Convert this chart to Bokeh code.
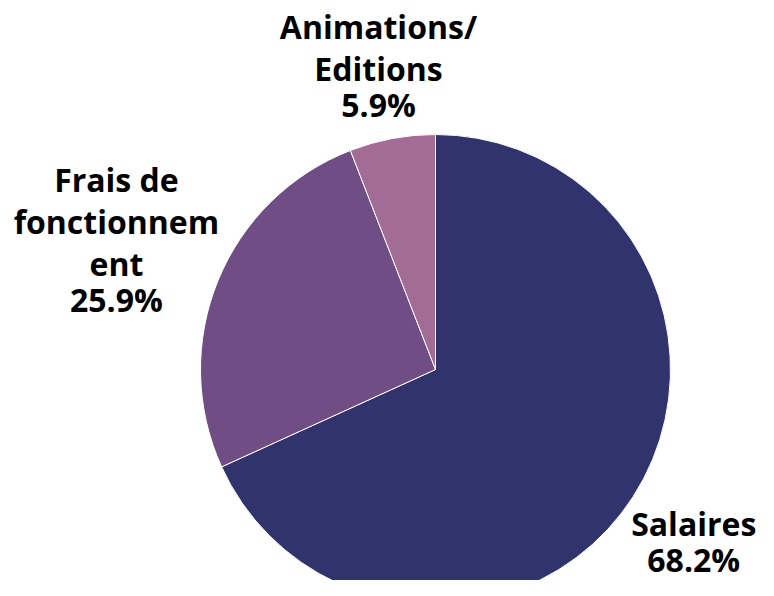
import math
from bokeh.plotting import figure
from bokeh.models import ColumnDataSource, Range1d
from bokeh.core.properties import value
from bokeh.embed import file_html
from bokeh.resources import INLINE

categories = ["Salaires", "Frais de fonctionnement", "Animations/ Editions"]
shares = [68.2, 25.9, 5.9]
colors = ["#31346C", "#704D85", "#A36C96"]

W, H = 758, 580
p = figure(width=W, height=H, output_backend="svg", toolbar_location=None,
           x_range=Range1d(0, W), y_range=Range1d(0, H), min_border=0)
p.axis.visible = False
p.grid.visible = False
p.outline_line_color = None


def wrap(text, width=11):
    lines, cur = [], ""
    for word in text.split():
        cand = (cur + " " + word) if cur else word
        if len(cand) <= width:
            cur = cand
            continue
        if cur:
            lines.append(cur)
        while len(word) > width:
            lines.append(word[:width])
            word = word[width:]
        cur = word
    if cur:
        lines.append(cur)
    return lines


cx, cy, r = 435, 211, 235
total = sum(shares)
starts, ends, mids = [], [], []
acc = 0.0
for s in shares:
    a0 = math.pi / 2 - 2 * math.pi * acc / total
    acc += s
    a1 = math.pi / 2 - 2 * math.pi * acc / total
    starts.append(a0); ends.append(a1); mids.append((a0 + a1) / 2)

src = ColumnDataSource(dict(start=starts, end=ends, color=colors))
p.wedge(x=cx, y=cy, radius=r, start_angle="start", end_angle="end", direction="clock",
        fill_color="color", line_color="white", line_width=1, source=src)

label_factor = [1.349, 1.447, 1.266]
angle_tweak = [-0.047, 0.0335, 0.0075]
pitch, pct_gap, shift = 42, 36, 12
tx, ty, tt = [], [], []
for cat, s, m, f, da in zip(categories, shares, mids, label_factor, angle_tweak):
    lines = wrap(cat)
    ax = cx + f * r * math.cos(m + da)
    ay = cy + f * r * math.sin(m + da) + shift
    offs = [i * pitch for i in range(len(lines))]
    offs.append(offs[-1] + pct_gap)
    mid = (offs[0] + offs[-1]) / 2
    for line, o in zip(lines + [f"{s:.1f}%"], offs):
        tx.append(ax)
        ty.append(ay + mid - o)
        tt.append(line)

p.text(x=tx, y=ty, text=tt, text_align="center", text_baseline="alphabetic",
       text_font=value("Open Sans"), text_font_style="bold", text_font_size="32px",
       text_color="#000000")

open("out.html", "w").write(file_html(p, INLINE))
